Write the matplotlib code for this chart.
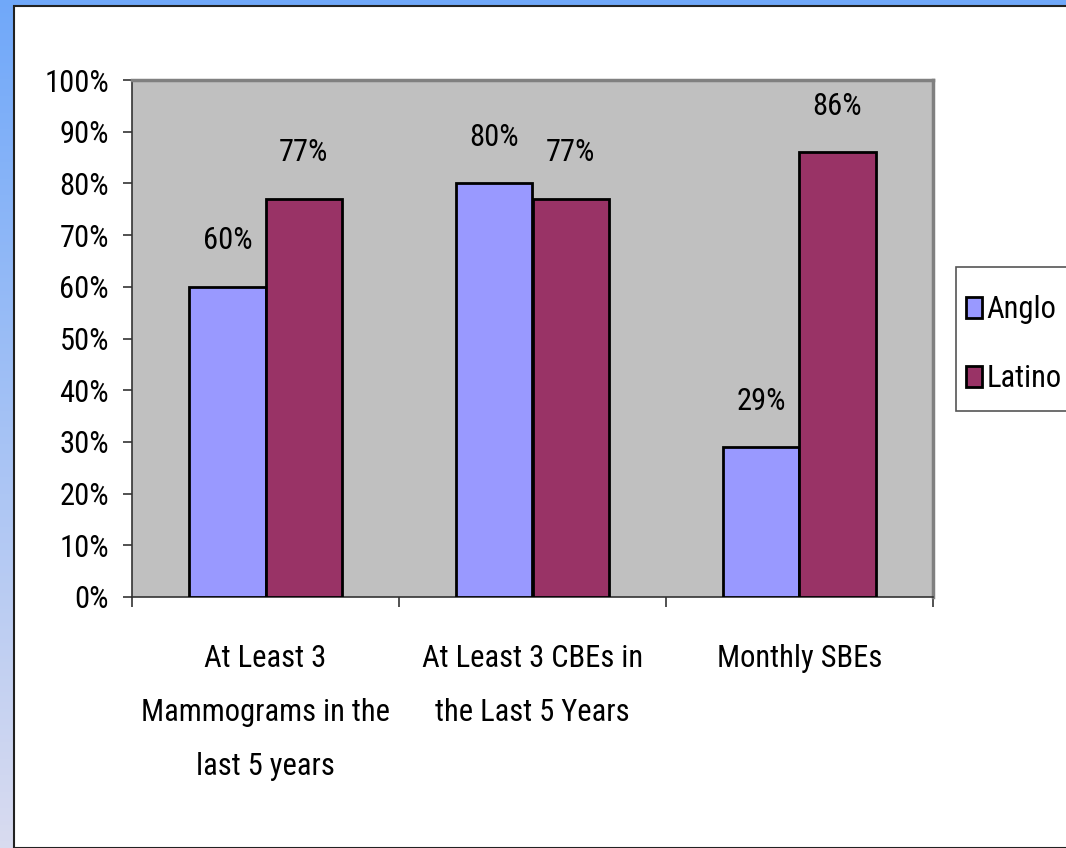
import matplotlib
matplotlib.use("Agg")
import matplotlib.pyplot as plt
import numpy as np
from matplotlib.patches import Patch

categories = ["At Least 3\nMammograms in the\nlast 5 years",
              "At Least 3 CBEs in\nthe Last 5 Years",
              "Monthly SBEs"]
anglo = [60, 80, 29]
latino = [77, 77, 86]
yticks = [0, 10, 20, 30, 40, 50, 60, 70, 80, 90, 100]

plt.rcParams["font.family"] = ["Roboto Condensed", "Liberation Sans", "DejaVu Sans"]
FS = 22

fig = plt.figure(figsize=(10.66, 8.48), dpi=100)

# blue slide background: thin strip on top, gradient strip on the left
bg = fig.add_axes([0, 0, 1, 1], zorder=-10)
bg.set_axis_off()
grad = np.linspace(0, 1, 256)[:, None]
top_c = np.array([0.44, 0.66, 0.98])
bot_c = np.array([0.85, 0.86, 0.94])
img = top_c[None, None, :] * (1 - grad[:, :, None]) + bot_c[None, None, :] * grad[:, :, None]
bg.imshow(img, extent=[0, 1, 0, 1], aspect="auto")
bg.add_patch(plt.Rectangle((14 / 1066, 0), 1, 1 - 6 / 848,
                           facecolor="white", edgecolor="#222222", linewidth=1.5))
# legend box (runs off the right edge like the original)
bg.add_patch(plt.Rectangle((956 / 1066, 1 - 411 / 848), 0.2, 144 / 848,
                           facecolor="white", edgecolor="#555555", linewidth=1.2))
bg.set_xlim(0, 1)
bg.set_ylim(0, 1)

ax = fig.add_axes([132 / 1066, 1 - 597 / 848, 801 / 1066, 517 / 848])
ax.set_facecolor("#c0c0c0")

x = np.arange(len(categories))
w = 0.285
ax.bar(x - w / 2, anglo, w, color="#9999ff", edgecolor="black", linewidth=2, zorder=3)
ax.bar(x + w / 2, latino, w, color="#993366", edgecolor="black", linewidth=2, zorder=3)

for xs, vals in [(x - w / 2, anglo), (x + w / 2, latino)]:
    for xi, v in zip(xs, vals):
        ax.annotate(f"{v}%", (xi, v), xytext=(0, 46), textcoords="offset pixels",
                    ha="center", va="center", fontsize=FS)

ax.set_xlim(-0.5, 2.5)
ax.set_ylim(0, 100)
ax.set_yticks(yticks)
ax.set_yticklabels([f"{t}%" for t in yticks], fontsize=FS)
ax.tick_params(axis="y", length=6.5, width=1.2, color="#333333", pad=10)

ax.set_xticks(x)
ax.set_xticklabels(categories, fontsize=FS, linespacing=2.08)
ax.tick_params(axis="x", which="major", length=0, pad=34)
ax.set_xticks([-0.5, 0.5, 1.5, 2.5], minor=True)
ax.tick_params(axis="x", which="minor", length=7, width=1.2, color="#333333")

for s in ["left", "bottom"]:
    ax.spines[s].set_color("#333333")
    ax.spines[s].set_linewidth(1.2)
for s in ["top", "right"]:
    ax.spines[s].set_color("#808080")
    ax.spines[s].set_linewidth(2.5)

handles = [Patch(facecolor="#9999ff", edgecolor="black", linewidth=2, label="Anglo"),
           Patch(facecolor="#993366", edgecolor="black", linewidth=2, label="Latino")]
leg = fig.legend(handles=handles, loc="upper left",
                 bbox_to_anchor=(957 / 1066, 1 - 286 / 848),
                 fontsize=FS, frameon=False,
                 handlelength=0.52, handleheight=0.65, handletextpad=0.15,
                 labelspacing=1.31, borderpad=0.3, borderaxespad=0)

fig.savefig("out.png", dpi=100)
